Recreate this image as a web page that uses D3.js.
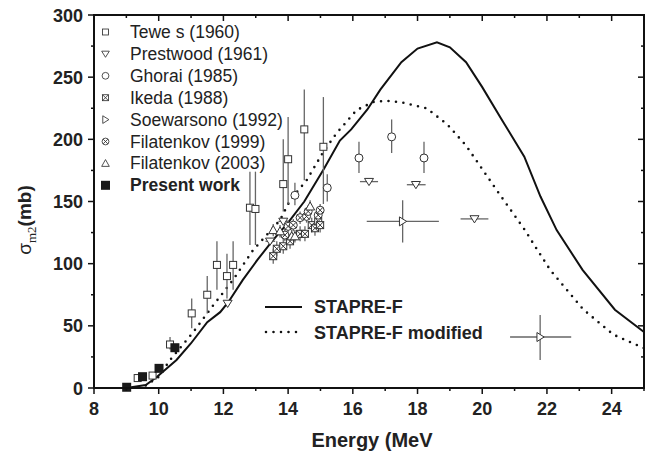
<!DOCTYPE html>
<html><head><meta charset="utf-8">
<script src="https://cdn.jsdelivr.net/npm/d3@7"></script>
<style>body{margin:0;background:#fff}svg{display:block}</style>
</head><body>
<svg id="c" width="653" height="455"></svg>
<script>
// ---------- data ----------
const xTicks = [8,10,12,14,16,18,20,22,24];
const yTicks = [0,50,100,150,200,250,300];

const solidE = [9.0, 9.6, 9.95, 10.55, 11.0, 11.5, 11.9, 12.15, 12.6, 13.05, 13.5, 14.0, 14.5, 15.1, 15.6, 15.95, 16.45, 16.85, 17.5, 18.0, 18.6, 19.0, 19.5, 20.0, 20.6, 21.3, 21.8, 22.3, 23.1, 24.1, 25.0];
const solidS = [0, 2.4, 9, 22.5, 36, 53, 61, 69, 87, 103, 118, 133, 150, 176, 199, 208, 224, 240, 262, 273, 278, 274, 262, 242, 216, 186, 154, 127, 95, 63, 45];

const dotE = [9.6, 10.0, 10.35, 11.07, 11.7, 12.3, 12.92, 13.44, 13.75, 14.06, 14.57, 15.09, 15.5, 16.12, 16.63, 17.0, 17.46, 18.28, 18.92, 19.5, 20.45, 21.32, 21.68, 22.1, 23.13, 24.05, 25.0];
const dotS = [2, 9, 22.5, 45, 67, 87, 111, 126, 135, 151, 167, 190, 205, 223.6, 230, 231, 230, 225, 212, 195, 159, 127, 112, 95, 63, 43, 32];

// Tewes (1960): E, sigma, low, high
const tewesE  = [9.35, 9.81, 10.35, 11.02, 11.5, 11.8, 12.11, 12.3, 12.82, 12.99, 13.85, 14.0, 14.5, 15.09];
const tewesS  = [8, 10, 35, 60, 75, 99, 90, 99, 145, 144, 164, 184, 208, 194];
const tewesLo = [8, 10, 31, 48, 60, 79, 72, 79, 115, 115, 142, 148, 167, 148];
const tewesHi = [8, 10, 41, 72, 90, 118, 108, 118, 174, 174, 200, 218, 240, 234];

// Prestwood (1961): E, sigma, E-low, E-high
const presE  = [12.13, 13.44, 13.85, 16.5, 17.95, 19.76];
const presS  = [68, 118, 134, 166, 163.5, 136];
const presEl = [12.13, 13.3, 13.7, 16.22, 17.67, 19.33];
const presEh = [12.13, 13.6, 14.0, 16.78, 18.25, 20.19];

// Ghorai (1985)
const ghoE  = [14.21, 15.21, 16.19, 17.2, 18.2];
const ghoS  = [155, 161, 185, 202, 185];
const ghoLo = [147, 150, 173, 189, 173];
const ghoHi = [165, 172, 198, 216, 198];

// Ikeda (1988)
const ikeE  = [13.54, 13.65, 13.85, 14.06, 14.37, 14.52, 14.73, 14.83, 14.93, 14.99];
const ikeS  = [106, 112, 114, 118, 124, 124, 131, 128.5, 134, 131];

// Soewarsono (1992)
const soeE  = [17.54, 21.79];
const soeS  = [134, 41];
const soeEl = [16.43, 20.86];
const soeEh = [18.66, 22.75];
const soeLo = [117, 22.5];
const soeHi = [151, 58.7];

// Filatenkov (1999)
const fil99E = [13.9, 14.0, 14.16, 14.37, 14.57, 14.62, 14.93, 14.99];
const fil99S = [123, 130, 131, 137, 138, 142, 139, 143];

// Filatenkov (2003)
const fil03E = [13.54, 13.75, 14.11, 14.21, 14.68];
const fil03S = [127, 126, 122, 122, 146];

// Present work
const presentE = [9.01, 9.5, 10.01, 10.5];
const presentS = [0.6, 9.1, 15.8, 32.4];

const legendNames = ["Tewe s (1960)","Prestwood (1961)","Ghorai (1985)","Ikeda (1988)","Soewarsono (1992)","Filatenkov (1999)","Filatenkov (2003)","Present work"];
const curveNames = ["STAPRE-F","STAPRE-F modified"];

// ---------- drawing ----------
const svg = d3.select("#c");
const L=94, R=644, T=15, B=388;
const x = d3.scaleLinear().domain([8,25]).range([L,R]);
const y = d3.scaleLinear().domain([0,300]).range([B,T]);
const font = "'Liberation Sans', Arial, Helvetica, sans-serif";
const mk = "#333";

// curves
const line = d3.line().x(d=>x(d[0])).y(d=>y(d[1]));
svg.append("path").attr("d", line(solidE.map((e,i)=>[e,solidS[i]])))
  .attr("fill","none").attr("stroke","#111").attr("stroke-width",2);
svg.append("path").attr("d", line(dotE.map((e,i)=>[e,dotS[i]])))
  .attr("fill","none").attr("stroke","#111").attr("stroke-width",2.6)
  .attr("stroke-dasharray","0,7.5").attr("stroke-linecap","round");

// marker shapes
function drawMarker(g, type, cx, cy, s){
  s = s||1;
  const gg = g.append("g").attr("transform",`translate(${cx},${cy}) scale(${s})`);
  const st = {stroke:mk,"stroke-width":1/s*1.0};
  if(type==="sq"){ gg.append("rect").attr("x",-3.5).attr("y",-3.5).attr("width",7).attr("height",7).attr("fill","#fff").attr("stroke",mk).attr("stroke-width",1); }
  if(type==="tdown"){ gg.append("path").attr("d","M-4.5,-3.2L4.5,-3.2L0,4Z").attr("fill","#fff").attr("stroke",mk).attr("stroke-width",1); }
  if(type==="tup"){ gg.append("path").attr("d","M-4.5,3.5L4.5,3.5L0,-4.5Z").attr("fill","#fff").attr("stroke",mk).attr("stroke-width",1); }
  if(type==="tright"){ gg.append("path").attr("d","M-3.2,-4.5L4,0L-3.2,4.5Z").attr("fill","#fff").attr("stroke",mk).attr("stroke-width",1); }
  if(type==="circ"){ gg.append("circle").attr("r",4).attr("fill","#fff").attr("stroke",mk).attr("stroke-width",1); }
  if(type==="boxx"){ gg.append("rect").attr("x",-3.5).attr("y",-3.5).attr("width",7).attr("height",7).attr("fill","#fff").attr("stroke",mk).attr("stroke-width",1);
    gg.append("path").attr("d","M-3.5,-3.5L3.5,3.5M3.5,-3.5L-3.5,3.5").attr("stroke",mk).attr("stroke-width",1); }
  if(type==="circx"){ gg.append("circle").attr("r",4).attr("fill","#fff").attr("stroke",mk).attr("stroke-width",1);
    gg.append("path").attr("d","M-2.8,-2.8L2.8,2.8M2.8,-2.8L-2.8,2.8").attr("stroke",mk).attr("stroke-width",1); }
  if(type==="fsq"){ gg.append("rect").attr("x",-4.5).attr("y",-4.5).attr("width",9).attr("height",9).attr("fill","#1a1a1a"); }
}

const eb = svg.append("g").attr("stroke","#666").attr("stroke-width",1.3);
// vertical error bars
function vbar(E,lo,hi){ E.forEach((e,i)=>{ if(hi[i]>lo[i]) eb.append("line").attr("x1",x(e)).attr("x2",x(e)).attr("y1",y(lo[i])).attr("y2",y(hi[i])); }); }
function hbar(S,el,eh){ S.forEach((s,i)=>{ if(eh[i]>el[i]) eb.append("line").attr("x1",x(el[i])).attr("x2",x(eh[i])).attr("y1",y(s)).attr("y2",y(s)); }); }
vbar(tewesE,tewesLo,tewesHi);
hbar(presS,presEl,presEh);
vbar(ghoE,ghoLo,ghoHi);
vbar(soeE,soeLo,soeHi);
hbar(soeS,soeEl,soeEh);
vbar(ikeE, ikeS.map(v=>v-6), ikeS.map(v=>v+6));
vbar(fil99E, fil99S.map(v=>v-5), fil99S.map(v=>v+5));
vbar(fil03E, fil03S.map(v=>v-5), fil03S.map(v=>v+5));

const mg = svg.append("g");
function pts(E,S,type){ E.forEach((e,i)=>drawMarker(mg,type,x(e),y(S[i]))); }
pts(tewesE,tewesS,"sq");
pts(presE,presS,"tdown");
pts(ghoE,ghoS,"circ");
pts(ikeE,ikeS,"boxx");
pts(soeE,soeS,"tright");
pts(fil99E,fil99S,"circx");
pts(fil03E,fil03S,"tup");
pts(presentE,presentS,"fsq");

// axes frame & ticks
const ax = svg.append("g").attr("stroke","#111");
ax.append("rect").attr("x",L).attr("y",T).attr("width",R-L).attr("height",B-T).attr("fill","none").attr("stroke-width",2);
for(let v=8; v<=25; v++){
  const major = v%2===0, len = major?6:3;
  ax.append("line").attr("x1",x(v)).attr("x2",x(v)).attr("y1",B).attr("y2",B+len).attr("stroke-width",1.5);
  ax.append("line").attr("x1",x(v)).attr("x2",x(v)).attr("y1",T).attr("y2",T+len).attr("stroke-width",1.5);
}
for(let v=0; v<=300; v+=25){
  const major = v%50===0, len = major?6:3;
  ax.append("line").attr("y1",y(v)).attr("y2",y(v)).attr("x1",L).attr("x2",L-len).attr("stroke-width",1.5);
  ax.append("line").attr("y1",y(v)).attr("y2",y(v)).attr("x1",R).attr("x2",R-len).attr("stroke-width",1.5);
}
const tl = svg.append("g").attr("font-family",font).attr("font-weight","bold").attr("font-size",18).attr("fill","#222");
xTicks.forEach(v=>tl.append("text").attr("x",x(v)).attr("y",B+27).attr("text-anchor","middle").text(v));
yTicks.forEach(v=>tl.append("text").attr("x",L-11).attr("y",y(v)+6.5).attr("text-anchor","end").text(v));

// axis titles
svg.append("text").attr("x",372).attr("y",447).attr("text-anchor","middle")
  .attr("font-family",font).attr("font-weight","bold").attr("font-size",20).attr("fill","#222").text("Energy (MeV");
const yt = svg.append("text").attr("transform","translate(31,220) rotate(-90)").attr("text-anchor","middle")
  .attr("font-family",font).attr("font-size",19).attr("fill","#222");
yt.append("tspan").text("σ");
yt.append("tspan").attr("font-family","'Liberation Serif', 'Times New Roman', serif").attr("font-size",13).attr("dy",5).text("m2");
yt.append("tspan").attr("font-weight","bold").attr("dy",-5).text("(mb)");

// legend
const types = ["sq","tdown","circ","boxx","tright","circx","tup","fsq"];
const lg = svg.append("g");
legendNames.forEach((n,i)=>{
  const cy = 32 + 21.9*i;
  drawMarker(lg, types[i], 105.5, cy, i===7?1:0.85);
  lg.append("text").attr("x",130).attr("y",cy+6).attr("font-family",font).attr("font-size",17.5)
    .attr("font-weight", i===7?"bold":"normal").attr("fill","#222").text(n);
});
// curve legend
lg.append("line").attr("x1",265).attr("x2",302).attr("y1",307).attr("y2",307).attr("stroke","#111").attr("stroke-width",2);
lg.append("line").attr("x1",266).attr("x2",302).attr("y1",332).attr("y2",332).attr("stroke","#111").attr("stroke-width",2.6)
  .attr("stroke-dasharray","0,7.5").attr("stroke-linecap","round");
curveNames.forEach((n,i)=>lg.append("text").attr("x",314).attr("y",313+25.5*i).attr("font-family",font)
  .attr("font-weight","bold").attr("font-size",18).attr("fill","#222").text(n));
</script>
</body></html>
